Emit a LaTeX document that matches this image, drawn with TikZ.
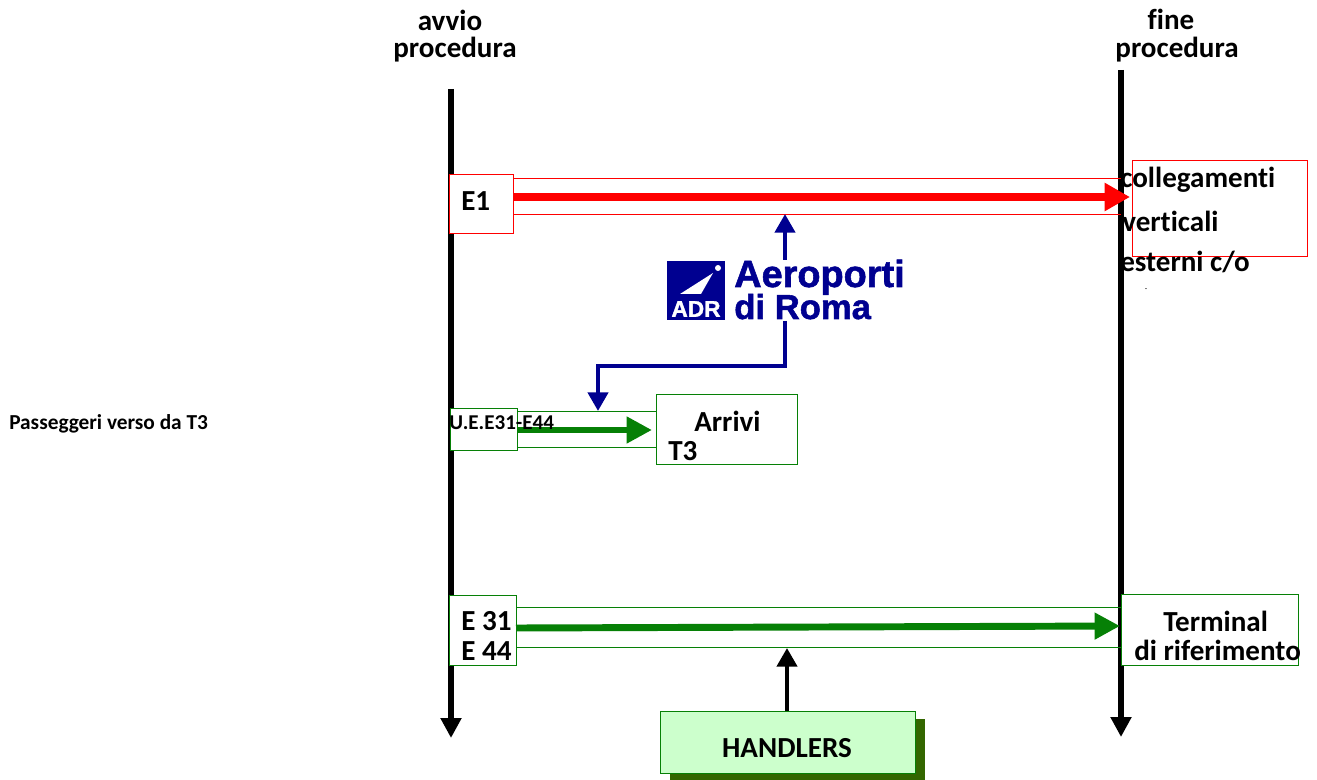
\documentclass[tikz,border=0pt]{standalone}
\usepackage{fontspec}
\setmainfont{Carlito}[Ligatures=NoCommon]
\newfontfamily\logofont{Liberation Sans}[BoldFeatures={FakeBold=1.5}]
\usetikzlibrary{arrows.meta}
\definecolor{adrblue}{HTML}{000090}
\definecolor{gr}{HTML}{068006}
\definecolor{shadowgreen}{HTML}{336600}
\definecolor{lightgreen}{HTML}{CCFFCC}
\tikzset{
  x=0.75pt,y=-0.75pt,
  bigtxt/.style={font=\fontsize{21.8}{22}\selectfont\bfseries,inner sep=0pt,text=black},
  redbox/.style={draw=red,line width=1pt,fill=white,inner sep=0pt,anchor=north west},
  grbox/.style={draw=gr,line width=1pt,fill=white,inner sep=0pt,anchor=north west},
  thinred/.style={draw=red,line width=0.6pt},
  thingr/.style={draw=gr,line width=0.6pt},
  axisline/.style={draw=black,line width=3.8pt,-{Triangle[length=15pt,width=15pt]}},
  flowred/.style={draw=red,line width=6pt,-{Triangle[length=19pt,width=20pt]}},
  flowgr/.style={draw=gr,line width=5.2pt,-{Triangle[length=19pt,width=19pt]}},
  bluearrow/.style={draw=adrblue,line width=3.2pt,-{Triangle[length=14pt,width=15pt]}},
  blackarrow/.style={draw=black,line width=3.2pt,-{Triangle[length=14pt,width=15pt]}},
  logotxt/.style={font=\logofont\fontsize{28.4}{28}\selectfont\bfseries,text=adrblue,inner sep=0pt,anchor=base west},
}
\begin{document}
\begin{tikzpicture}
\useasboundingbox (0,0) rectangle (1317,780);
% axes
\coordinate (la0) at (451,89); \coordinate (la1) at (451,738);
\coordinate (ra0) at (1121,70); \coordinate (ra1) at (1121,737);
\draw[axisline] (la0) -- (la1);
\draw[axisline] (ra0) -- (ra1);
% headers
\node[bigtxt] (h1) at (450,20) {avvio};
\node[bigtxt] (h2) at (455,50) {procedura};
\node[bigtxt] (h3) at (1171,19) {fine};
\node[bigtxt] (h4) at (1177,50) {procedura};
\node[font=\fontsize{16}{16}\selectfont\bfseries,inner sep=0pt,anchor=west] (pv) at (9,424) {Passeggeri verso da T3};
% red row
\node[redbox,minimum width=48pt,minimum height=44.25pt] (e1) at (449,174) {};
\node[redbox,fill=none,minimum width=131.25pt,minimum height=72pt] (cv) at (1132,160) {};
\coordinate (r1a) at (513,178); \coordinate (r1b) at (1121,178);
\coordinate (r2a) at (513,214); \coordinate (r2b) at (1121,214);
\draw[thinred] (r1a) -- (r1b);
\draw[thinred] (r2a) -- (r2b);
\coordinate (rfa) at (513,197); \coordinate (rfb) at (1130,197);
\draw[flowred] (rfa) -- (rfb);
\node[bigtxt,anchor=west] (e1t) at (461,201) {E1};
\node[bigtxt,anchor=west] (cv1) at (1120,180) {collegamenti};
\node[bigtxt,anchor=west] (cv2) at (1122,221) {verticali};
\node[bigtxt,anchor=west] (cv3) at (1120,262) {esterni c/o};
\node[font=\fontsize{6}{6}\selectfont,inner sep=0pt] (dash) at (1146,290) {-};
% logo
\fill[adrblue] (667,261) rectangle (725,320);
\fill[white] (718,268) circle (3);
\fill[white] (680,294) -- (713,273) -- (701,294) -- cycle;
\node[font=\logofont\fontsize{17}{17}\selectfont\bfseries,text=white,inner sep=0pt] (adr) at (696,309) {ADR};
\node[logotxt] (l1) at (734,287) {Aeroporti};
\node[logotxt,font=\logofont\fontsize{26}{26}\selectfont\bfseries] (l2) at (734,319) {di Roma};
% blue arrows
\coordinate (bu0) at (785,260); \coordinate (bu1) at (785,214);
\draw[bluearrow] (bu0) -- (bu1);
\coordinate (bd0) at (785,321); \coordinate (bd1) at (785,366); \coordinate (bd2) at (598,366); \coordinate (bd3) at (598,411);
\draw[bluearrow] (bd0) -- (bd1) -- (bd2) -- (bd3);
% T3 row
\node[grbox,minimum width=50.25pt,minimum height=31.5pt] (ue) at (450,408) {};
\node[grbox,minimum width=105.75pt,minimum height=52.5pt] (arr) at (656,394) {};
\coordinate (g1a) at (517,411); \coordinate (g1b) at (656,411);
\coordinate (g2a) at (517,447); \coordinate (g2b) at (656,447);
\draw[thingr] (g1a) -- (g1b);
\draw[thingr] (g2a) -- (g2b);
\coordinate (gfa) at (517,430); \coordinate (gfb) at (652,430);
\draw[flowgr] (gfa) -- (gfb);
\node[font=\fontsize{15.8}{16}\selectfont\bfseries,inner sep=0pt,anchor=west] (uet) at (449,423) {U.E.E31-E44};
\node[bigtxt,anchor=west] (a1) at (694,421) {Arrivi};
\node[bigtxt,anchor=west] (a2) at (668,451) {T3};
% E31 row
\node[grbox,minimum width=50.25pt,minimum height=52.5pt] (e3) at (449,595) {};
\node[grbox,minimum width=132.75pt,minimum height=53.25pt] (tr) at (1121,594) {};
\coordinate (h1a) at (516,607); \coordinate (h1b) at (1121,607);
\coordinate (h2a) at (516,647); \coordinate (h2b) at (1121,647);
\draw[thingr] (h1a) -- (h1b);
\draw[thingr] (h2a) -- (h2b);
\coordinate (hfa) at (516,628); \coordinate (hfb) at (1120,626);
\draw[flowgr] (hfa) -- (hfb);
\node[bigtxt,anchor=west] (e31) at (461,621) {E 31};
\node[bigtxt,anchor=west] (e44) at (461,651) {E 44};
\node[bigtxt,anchor=west] (t1) at (1163,621) {Terminal};
\node[bigtxt,anchor=west] (t2) at (1134,650) {di riferimento};
% handlers
\fill[shadowgreen] (670,719) rectangle (925,780);
\node[draw=gr,line width=1pt,fill=lightgreen,inner sep=0pt,anchor=north west,minimum width=191.25pt,minimum height=46.5pt] (hd) at (660,711) {};
\node[bigtxt] (hdt) at (787,748) {HANDLERS};
\coordinate (ht) at (787,648);
\draw[blackarrow] (ht |- hd.north) -- (ht);
\end{tikzpicture}
\end{document}
